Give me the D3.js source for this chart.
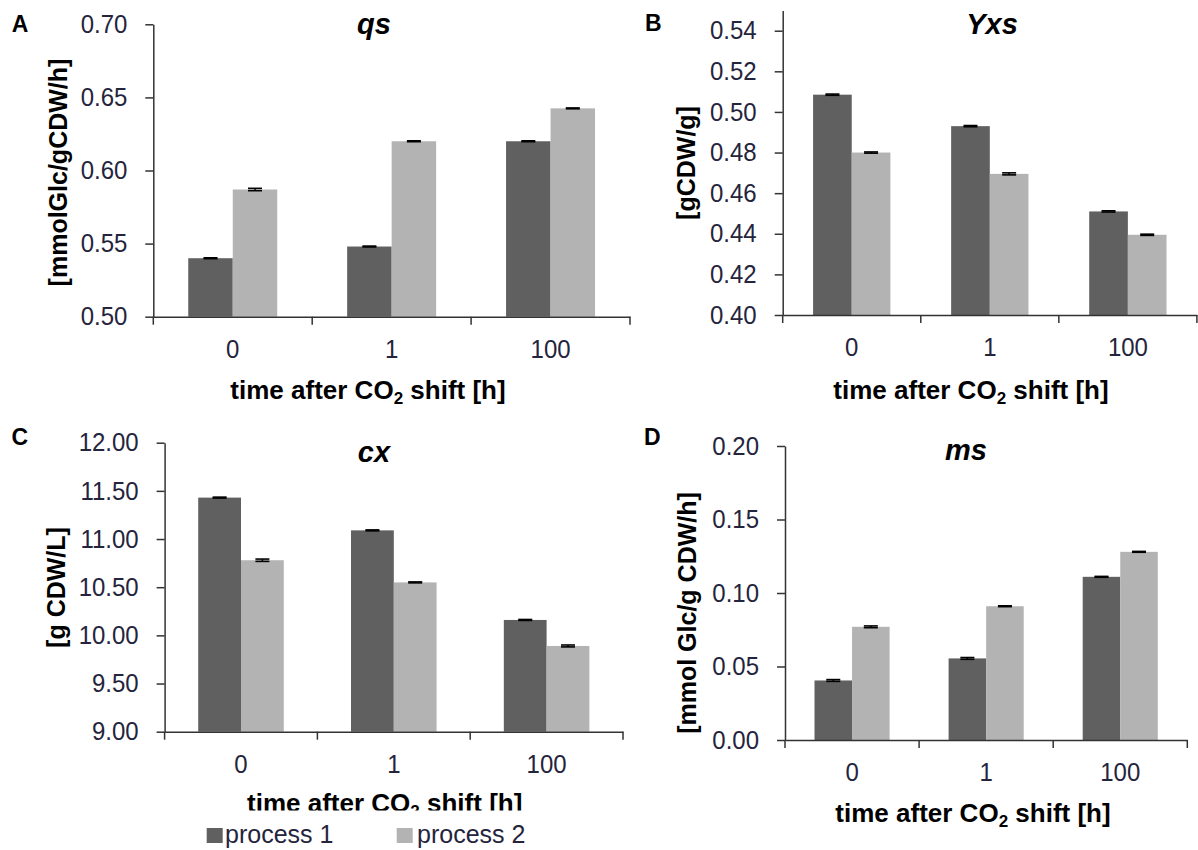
<!DOCTYPE html>
<html>
<head>
<meta charset="utf-8">
<script src="https://cdn.jsdelivr.net/npm/d3@7"></script>
<style>
  html, body { margin: 0; padding: 0; background: #fff; }
  svg { display: block; }
</style>
</head>
<body>
<svg id="fig" width="1198" height="850"></svg>
<script>
// ---- data ----
const categories = ["0", "1", "100"];
const seriesNames = ["process 1", "process 2"];

const qsProcess1 = [0.540, 0.548, 0.620];
const qsProcess2 = [0.587, 0.620, 0.6425];
const qsErr1 = [0.0003, 0.0003, 0.0003];
const qsErr2 = [0.0008, 0.0003, 0.0003];
const qsTicks = [0.50, 0.55, 0.60, 0.65, 0.70];

const yxsProcess1 = [0.5085, 0.493, 0.451];
const yxsProcess2 = [0.480, 0.4695, 0.4395];
const yxsErr1 = [0.0003, 0.0003, 0.0003];
const yxsErr2 = [0.0003, 0.0005, 0.0003];
const yxsTicks = [0.40, 0.42, 0.44, 0.46, 0.48, 0.50, 0.52, 0.54];

const cxProcess1 = [11.43, 11.09, 10.16];
const cxProcess2 = [10.78, 10.55, 9.89];
const cxErr1 = [0.005, 0.005, 0.005];
const cxErr2 = [0.012, 0.005, 0.01];
const cxTicks = [9.00, 9.50, 10.00, 10.50, 11.00, 11.50, 12.00];

const msProcess1 = [0.0405, 0.0555, 0.111];
const msProcess2 = [0.077, 0.091, 0.128];
const msErr1 = [0.0006, 0.0006, 0.0003];
const msErr2 = [0.0006, 0.0003, 0.0003];
const msTicks = [0.00, 0.05, 0.10, 0.15, 0.20];

// ---- styling ----
const FONT = "'Liberation Sans', Arial, Helvetica, sans-serif";
const barColors = ["#606060", "#b3b3b3"];
const axisColor = "#333";
const tickTextColor = "#24243c";
const TICK_FONT = "25.5px";
const TICK_SQUEEZE = 0.94;   // tick numerals are set slightly narrow

// ---- panel layout ----
const panels = [
  { letter: "A", title: "qs", ylabel: "[mmolGlc/gCDW/h]",
    s1: qsProcess1, s2: qsProcess2, e1: qsErr1, e2: qsErr2,
    domain: [0.50, 0.70], ticks: qsTicks,
    x0: 153.3, x1: 630, yTop: 24.3, yBot: 316.7,
    letterPos: [11.7, 31.7], titlePos: [374, 33.5],
    ylabPos: [66.5, 172.5], xtitlePos: [368, 399] },
  { letter: "B", title: "Yxs", ylabel: "[gCDW/g]",
    s1: yxsProcess1, s2: yxsProcess2, e1: yxsErr1, e2: yxsErr2,
    domain: [0.40, 0.55], ticks: yxsTicks,
    x0: 782.7, x1: 1196.9, yTop: 10.4, yBot: 315,
    letterPos: [645, 31], titlePos: [992, 34],
    ylabPos: [694.5, 163], xtitlePos: [971, 399] },
  { letter: "C", title: "cx", ylabel: "[g CDW/L]",
    s1: cxProcess1, s2: cxProcess2, e1: cxErr1, e2: cxErr2,
    domain: [9.00, 12.00], ticks: cxTicks,
    x0: 164.6, x1: 623, yTop: 442.7, yBot: 731.7,
    letterPos: [11.5, 445], titlePos: [374, 461.7],
    ylabPos: [64.5, 587.5], xtitlePos: [384.7, 812], xtitleClip: 810.5 },
  { letter: "D", title: "ms", ylabel: "[mmol Glc/g CDW/h]",
    s1: msProcess1, s2: msProcess2, e1: msErr1, e2: msErr2,
    domain: [0.00, 0.20], ticks: msTicks,
    x0: 785, x1: 1187.3, yTop: 446, yBot: 740,
    letterPos: [644, 445], titlePos: [966, 460],
    ylabPos: [696, 613], xtitlePos: [973, 822] }
];

const svg = d3.select("#fig");
svg.append("rect").attr("width", 1198).attr("height", 850).attr("fill", "#fff");
const defs = svg.append("defs");

function squeeze(sel) {
  sel.each(function () {
    const w = this.getComputedTextLength();
    d3.select(this).attr("textLength", w * TICK_SQUEEZE).attr("lengthAdjust", "spacingAndGlyphs");
  });
}

panels.forEach(p => {
  const g = svg.append("g").attr("class", "panel panel-" + p.letter);

  const x = d3.scaleBand().domain(categories).range([p.x0, p.x1]).paddingInner(0).paddingOuter(0);
  const bw = x.bandwidth();
  const sub = d3.scaleBand().domain([0, 1]).range([bw * 0.22, bw * 0.78]);
  const y = d3.scaleLinear().domain(p.domain).range([p.yBot, p.yTop]);

  // bars
  const rows = categories.map((c, i) => ({ c, i, vals: [p.s1[i], p.s2[i]], errs: [p.e1[i], p.e2[i]] }));
  const grp = g.append("g").selectAll("g").data(rows).join("g")
    .attr("transform", d => `translate(${x(d.c)},0)`);
  grp.selectAll("rect").data(d => d.vals.map((v, k) => ({ v, k })))
    .join("rect")
    .attr("x", d => sub(d.k))
    .attr("width", sub.bandwidth())
    .attr("y", d => y(d.v))
    .attr("height", d => y(p.domain[0]) - y(d.v))
    .attr("fill", d => barColors[d.k]);

  // error bars
  const eb = grp.selectAll("g.err").data(d => d.vals.map((v, k) => ({ v, k, e: d.errs[k] })))
    .join("g").attr("class", "err")
    .attr("transform", d => `translate(${sub(d.k) + sub.bandwidth() / 2},0)`);
  eb.append("line").attr("x1", 0).attr("x2", 0)
    .attr("y1", d => y(d.v + d.e)).attr("y2", d => y(d.v - d.e))
    .attr("stroke", "#000").attr("stroke-width", 1.5);
  [1, -1].forEach(sign => {
    eb.append("line").attr("x1", -7).attr("x2", 7)
      .attr("y1", d => y(d.v + sign * d.e)).attr("y2", d => y(d.v + sign * d.e))
      .attr("stroke", "#000").attr("stroke-width", 1.6);
  });

  // y axis
  const yAxis = d3.axisLeft(y).tickValues(p.ticks).tickFormat(d3.format(".2f"))
    .tickSize(8).tickSizeOuter(0).tickPadding(18);
  const ya = g.append("g").attr("transform", `translate(${p.x0},0)`).call(yAxis);
  ya.select(".domain").attr("stroke", axisColor).attr("stroke-width", 1.5);
  ya.selectAll(".tick line").attr("stroke", axisColor).attr("stroke-width", 1.5);
  ya.selectAll(".tick text").attr("fill", tickTextColor)
    .style("font-family", FONT).style("font-size", TICK_FONT).call(squeeze);

  // x axis: labels at category centres, ticks at category boundaries
  const xAxis = d3.axisBottom(x).tickSize(0).tickSizeOuter(0).tickPadding(23);
  const xa = g.append("g").attr("transform", `translate(0,${p.yBot})`).call(xAxis);
  xa.select(".domain").attr("stroke", axisColor).attr("stroke-width", 1.5);
  xa.selectAll(".tick text").attr("fill", tickTextColor)
    .style("font-family", FONT).style("font-size", TICK_FONT).call(squeeze);
  xa.selectAll("line.bound").data(d3.range(categories.length + 1)).join("line")
    .attr("class", "bound")
    .attr("x1", i => p.x0 + i * bw).attr("x2", i => p.x0 + i * bw)
    .attr("y1", 0).attr("y2", 8)
    .attr("stroke", axisColor).attr("stroke-width", 1.5);

  // panel letter
  g.append("text").attr("x", p.letterPos[0]).attr("y", p.letterPos[1])
    .style("font-family", FONT).style("font-size", "23px").style("font-weight", "bold")
    .attr("fill", "#000").text(p.letter);

  // title
  g.append("text").attr("x", p.titlePos[0]).attr("y", p.titlePos[1])
    .attr("text-anchor", "middle")
    .style("font-family", FONT).style("font-size", "29px").style("font-weight", "bold")
    .style("font-style", "italic").attr("fill", "#000").text(p.title);

  // y axis title
  g.append("text")
    .attr("transform", `translate(${p.ylabPos[0]},${p.ylabPos[1]}) rotate(-90)`)
    .attr("text-anchor", "middle")
    .style("font-family", FONT).style("font-size", "25px").style("font-weight", "bold")
    .attr("fill", "#000").text(p.ylabel);

  // x axis title with subscript
  const xt = g.append("g");
  if (p.xtitleClip) {
    const id = "clip-" + p.letter;
    defs.append("clipPath").attr("id", id).append("rect")
      .attr("x", 0).attr("y", 0).attr("width", 1198).attr("height", p.xtitleClip);
    xt.attr("clip-path", `url(#${id})`);
  }
  const t = xt.append("text").attr("x", p.xtitlePos[0]).attr("y", p.xtitlePos[1])
    .attr("text-anchor", "middle")
    .style("font-family", FONT).style("font-size", "26px").style("font-weight", "bold")
    .attr("fill", "#000");
  t.append("tspan").text("time after CO");
  t.append("tspan").attr("dy", 5).style("font-size", "17px").text("2");
  t.append("tspan").attr("dy", -5).text(" shift [h]");
});

// legend under panel C
const legend = svg.append("g").attr("class", "legend");
const legendItems = [
  { name: seriesNames[0], color: barColors[0], sq: 206.7, tx: 225 },
  { name: seriesNames[1], color: barColors[1], sq: 396.7, tx: 417 }
];
legendItems.forEach(it => {
  legend.append("rect").attr("x", it.sq).attr("y", 828).attr("width", 16).attr("height", 15)
    .attr("fill", it.color);
  legend.append("text").attr("x", it.tx).attr("y", 843)
    .style("font-family", FONT).style("font-size", "25px")
    .attr("fill", tickTextColor).text(it.name);
});
</script>
</body>
</html>
